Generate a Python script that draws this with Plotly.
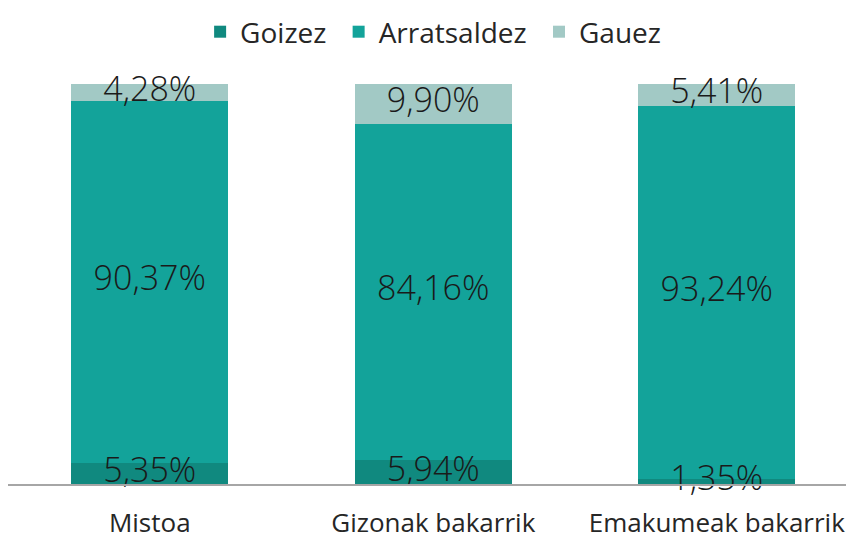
import plotly.graph_objects as go

categories = ["Mistoa", "Gizonak bakarrik", "Emakumeak bakarrik"]
series_names = ["Goizez", "Arratsaldez", "Gauez"]
goizez = [5.35, 5.94, 1.35]
arratsaldez = [90.37, 84.16, 93.24]
gauez = [4.28, 9.90, 5.41]
colors = ["#10897F", "#13A39A", "#A2C9C5"]

FONT = "Open Sans"
PAD = "\u00a0"

def fmt(v):
    return f"{v:.2f}".replace(".", ",") + "%"

series = [goizez, arratsaldez, gauez]
fig = go.Figure()
for i, (name, vals, col) in enumerate(zip(series_names, series, colors)):
    fig.add_trace(go.Bar(
        name=name + (PAD if i < len(series_names) - 1 else ""),
        x=categories, y=vals, marker=dict(color=col, line=dict(width=0)),
        hoverinfo="skip",
    ))

# labels drawn on top of all bars, at the middle of each stacked segment
base = [0.0] * len(categories)
for vals in series:
    mids = [b + v / 2 for b, v in zip(base, vals)]
    fig.add_trace(go.Scatter(
        x=categories, y=mids, mode="text", text=[fmt(v) for v in vals],
        textposition="middle center", cliponaxis=False, showlegend=False,
        textfont=dict(family=FONT, size=34, color="#1a1a1a", weight=300),
        hoverinfo="skip",
    ))
    base = [b + v for b, v in zip(base, vals)]

fig.update_layout(
    barmode="stack", bargap=0.446,
    width=854, height=539,
    margin=dict(l=0, r=8, t=76, b=63, autoexpand=False),
    paper_bgcolor="white", plot_bgcolor="white",
    showlegend=True,
    legend=dict(orientation="h", x=0.5025, xanchor="center", y=1.13, yanchor="middle",
                font=dict(family=FONT, size=28, color="#262626"),
                itemwidth=30, tracegroupgap=0, traceorder="normal"),
    xaxis=dict(range=[-0.5, 2.484], showgrid=False, showline=True, linecolor="#A6A6A6",
               linewidth=1.5, ticks="", ticklabelstandoff=15, automargin=False,
               tickfont=dict(family=FONT, size=26, color="#262626")),
    yaxis=dict(range=[0, 100], visible=False, showgrid=False, zeroline=False),
)
fig.write_html("out.html")
